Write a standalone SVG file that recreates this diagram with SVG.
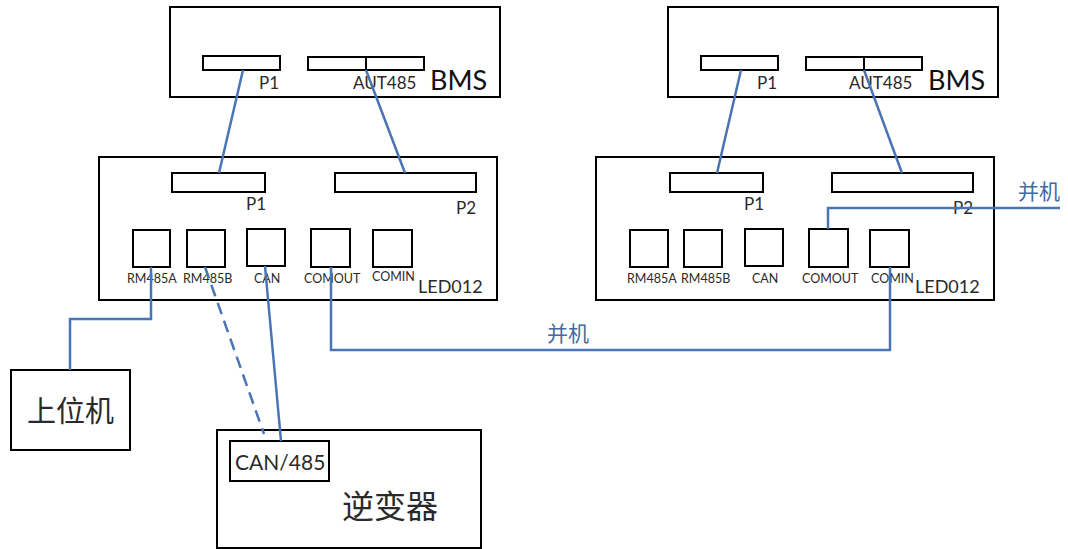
<svg xmlns="http://www.w3.org/2000/svg" width="1068" height="549" viewBox="0 0 1068 549">
<style>
.b{fill:#fff;stroke:#000;stroke-width:2}
.p{fill:#fff;stroke:#000;stroke-width:2}
.c{fill:none;stroke:#4a74b4;stroke-width:2.5}
text{font-family:Lato,"Noto Sans CJK SC",sans-serif;fill:#2a2a2a}
.s{font-size:12.5px}.m{font-size:17px}.n{font-size:18px}.l{font-size:27px;fill:#111}.z{font-size:21px;fill:#44699f;font-family:"Noto Sans CJK SC",sans-serif}
.k{font-family:"Noto Sans CJK SC",sans-serif}
</style>
<rect width="1068" height="549" fill="#fff"/>
<g id="bms1"><rect class="b" x="170" y="7" width="330" height="90"/><rect class="p" x="203" y="56" width="77" height="14"/><rect class="p" x="308" y="57" width="58" height="13"/><rect class="p" x="366" y="57" width="58" height="13"/><text class="m" x="259" y="89">P1</text><text class="m" x="353" y="89">AUT485</text><text class="l" x="430" y="90">BMS</text></g>
<g id="bms2"><rect class="b" x="668" y="7" width="330" height="90"/><rect class="p" x="701" y="56" width="77" height="14"/><rect class="p" x="806" y="57" width="58" height="13"/><rect class="p" x="864" y="57" width="58" height="13"/><text class="m" x="757" y="89">P1</text><text class="m" x="849" y="89">AUT485</text><text class="l" x="928" y="90">BMS</text></g>
<g id="led1"><rect class="b" x="99" y="157" width="398" height="143"/><rect class="p" x="172" y="173" width="93" height="19"/><rect class="p" x="335" y="173" width="141" height="19"/><text class="m" x="246" y="210">P1</text><text class="m" x="456" y="214">P2</text><rect class="p" x="133" y="230" width="37" height="37"/><rect class="p" x="187" y="230" width="38" height="37"/><rect class="p" x="247" y="229" width="38" height="37"/><rect class="p" x="311" y="229" width="39" height="38"/><rect class="p" x="373" y="230" width="39" height="37"/><text class="s" x="127" y="283">RM485A</text><text class="s" x="183" y="283">RM485B</text><text class="s" x="254" y="283">CAN</text><text class="s" x="304" y="283">COMOUT</text><text class="s" x="372" y="281">COMIN</text><text class="n" x="418" y="293">LED012</text></g>
<g id="led2"><rect class="b" x="596" y="157" width="398" height="143"/><rect class="p" x="670" y="173" width="93" height="19"/><rect class="p" x="832" y="173" width="141" height="19"/><text class="m" x="744" y="210">P1</text><text class="m" x="953" y="214">P2</text><rect class="p" x="630" y="230" width="38" height="37"/><rect class="p" x="684" y="230" width="38" height="37"/><rect class="p" x="745" y="229" width="38" height="37"/><rect class="p" x="809" y="229" width="39" height="38"/><rect class="p" x="870" y="230" width="39" height="37"/><text class="s" x="627" y="283">RM485A</text><text class="s" x="681" y="283">RM485B</text><text class="s" x="752" y="283">CAN</text><text class="s" x="802" y="283">COMOUT</text><text class="s" x="871" y="283">COMIN</text><text class="n" x="915" y="293">LED012</text></g>
<g id="host"><rect class="b" x="11" y="370" width="119" height="80"/><text class="k" x="27" y="422" font-size="29">上位机</text></g>
<g id="inverter"><rect class="b" x="217" y="430" width="264" height="118"/><rect class="p" x="230" y="441" width="99" height="40"/><text x="235" y="470" font-size="21">CAN/485</text><text class="k" x="342" y="518" font-size="32">逆变器</text></g>
<g id="connectors">
<path class="c" d="M243 70 219 173M366 70 405 173M741 70 717 173M864 70 902 173"/>
<path class="c" d="M151 267V319H70V370"/>
<path class="c" d="M205 267 264 434" stroke-dasharray="12 7"/>
<path class="c" d="M265 266 281 441"/>
<path class="c" d="M331 267V350H890V267"/>
<path class="c" d="M828 229V208H1060"/>
</g>
<text class="z" x="547" y="341">并机</text>
<text class="z" x="1018" y="199">并机</text>
</svg>
